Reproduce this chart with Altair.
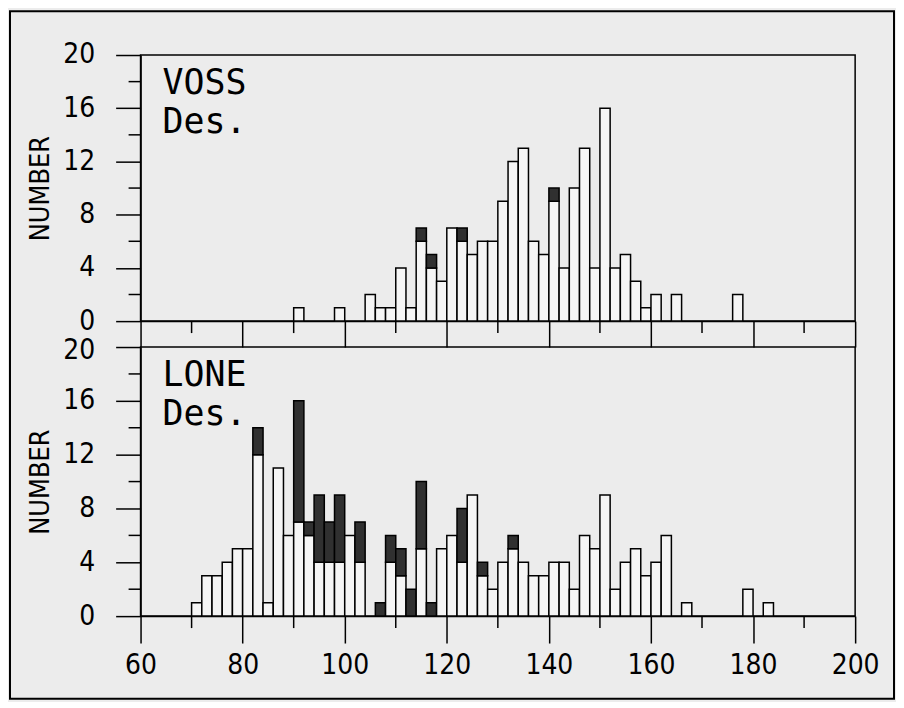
import altair as alt
import pandas as pd

# ---- data (bin width 2, bins start at even values) ----
voss_start = [90, 98, 104, 106, 108, 110, 112, 114, 116, 118, 120, 122, 124, 126, 128,
              130, 132, 134, 136, 138, 140, 142, 144, 146, 148, 150, 152, 154, 156, 158,
              160, 164, 176]
voss_total = [1, 1, 2, 1, 1, 4, 1, 7, 5, 3, 7, 7, 5, 6, 6,
              9, 12, 13, 6, 5, 10, 4, 10, 13, 4, 16, 4, 5, 3, 1,
              2, 2, 2]
voss_dark = [0, 0, 0, 0, 0, 0, 0, 1, 1, 0, 0, 1, 0, 0, 0,
             0, 0, 0, 0, 0, 1, 0, 0, 0, 0, 0, 0, 0, 0, 0,
             0, 0, 0]

lone_start = [70, 72, 74, 76, 78, 80, 82, 84, 86, 88, 90, 92, 94, 96, 98,
              100, 102, 106, 108, 110, 112, 114, 116, 118, 120, 122, 124, 126, 128, 130,
              132, 134, 136, 138, 140, 142, 144, 146, 148, 150, 152, 154, 156, 158, 160,
              162, 166, 178, 182]
lone_total = [1, 3, 3, 4, 5, 5, 14, 1, 11, 6, 16, 7, 9, 7, 9,
              6, 7, 1, 6, 5, 2, 10, 1, 5, 6, 8, 9, 4, 2, 4,
              6, 4, 3, 3, 4, 4, 2, 6, 5, 9, 2, 4, 5, 3, 4,
              6, 1, 2, 1]
lone_dark = [0, 0, 0, 0, 0, 0, 2, 0, 0, 0, 9, 1, 5, 3, 5,
             0, 3, 1, 2, 2, 2, 5, 1, 0, 0, 4, 0, 1, 0, 0,
             1, 0, 0, 0, 0, 0, 0, 0, 0, 0, 0, 0, 0, 0, 0,
             0, 0, 0, 0]

BIN = 2
x_major = [60, 80, 100, 120, 140, 160, 180, 200]
x_minor = [70, 90, 110, 130, 150, 170, 190]
y_major = [0, 4, 8, 12, 16, 20]
y_minor = [2, 6, 10, 14, 18]

FONT = "Liberation Sans Narrow, DejaVu Sans Condensed, Roboto, sans-serif"
MONO = "DejaVu Sans Mono"
BG = "#ececec"
BAR_FILL = "#f5f5f5"
DARK_FILL = "#303030"


def segments(starts, totals, darks):
    rows = []
    for s, t, d in zip(starts, totals, darks):
        if t - d > 0:
            rows.append(dict(x=s, x2=s + BIN, y0=0, y1=t - d, kind="plain"))
        if d > 0:
            rows.append(dict(x=s, x2=s + BIN, y0=t - d, y1=t, kind="dark"))
    return pd.DataFrame(rows)


xscale = alt.Scale(domain=[60, 200], nice=False, zero=False)
yscale = alt.Scale(domain=[0, 20], nice=False)
one = pd.DataFrame({"a": [0]})


def panel(df, name, h, bottom, frame=False):
    if bottom:
        xaxis = alt.Axis(values=x_major, tickSize=27, labelPadding=9, title=None,
                         format="d", labelFlush=False)
        yaxis = alt.Axis(values=y_major, tickSize=25, labelPadding=21, title="NUMBER",
                         titlePadding=8, format="d",
                         labelOffset={"condition": {"test": "datum.value == 20", "value": 4},
                                      "value": 0})
    else:
        xaxis = alt.Axis(values=x_major, tickSize=26, labels=False, title=None)
        yaxis = alt.Axis(values=y_major, tickSize=25, labelPadding=21, title="NUMBER",
                         titlePadding=8, format="d")

    X = alt.X("x:Q", scale=xscale, axis=xaxis, title=None)
    Y = alt.Y("y0:Q", scale=yscale, axis=yaxis, title="NUMBER")

    bars = alt.Chart(df).mark_rect(stroke="black", strokeWidth=1.5).encode(
        x=X, x2="x2:Q", y=Y, y2="y1:Q",
        color=alt.Color("kind:N", scale=alt.Scale(domain=["plain", "dark"],
                                                  range=[BAR_FILL, DARK_FILL]),
                        legend=None),
    )
    xminor = alt.Chart(pd.DataFrame({"x": x_minor})).mark_rule(
        color="black", strokeWidth=1.5).encode(
        x=X, y=alt.value(h), y2=alt.value(h + 12))
    yminor = alt.Chart(pd.DataFrame({"y0": y_minor})).mark_rule(
        color="black", strokeWidth=1.5).encode(
        y=Y, x=alt.value(-12), x2=alt.value(0))
    t1 = alt.Chart(one).mark_text(font=MONO, fontSize=35, align="left",
                                  baseline="alphabetic", color="black").encode(
        x=alt.value(22), y=alt.value(39), text=alt.value(name))
    t2 = alt.Chart(one).mark_text(font=MONO, fontSize=35, align="left",
                                  baseline="alphabetic", color="black").encode(
        x=alt.value(22), y=alt.value(78), text=alt.value("Des."))
    layers = [bars, xminor, yminor, t1, t2]
    if frame:
        box = alt.Chart(one).mark_rect(fill="transparent", stroke="black",
                                       strokeWidth=2).encode(
            x=alt.value(-131), x2=alt.value(756),
            y=alt.value(-44), y2=alt.value(646))
        layers.append(box)
    return alt.layer(*layers).properties(width=717, height=h)


top = panel(segments(voss_start, voss_total, voss_dark), "VOSS", 267, False, frame=True)
bot = panel(segments(lone_start, lone_total, lone_dark), "LONE", 270, True)

chart = alt.vconcat(top, bot, spacing=26, bounds="flush").properties(
    padding=0, background=BG
).configure_view(
    stroke="black", strokeWidth=1.5
).configure_axis(
    grid=False, domainColor="black", domainWidth=1.5,
    tickColor="black", tickWidth=1.5,
    labelFont=FONT, labelFontSize=28, labelColor="black",
    titleFont=FONT, titleFontSize=27, titleColor="black", titleFontWeight="normal",
)

chart.save("out.html", embed_options={"renderer": "svg", "actions": False})
